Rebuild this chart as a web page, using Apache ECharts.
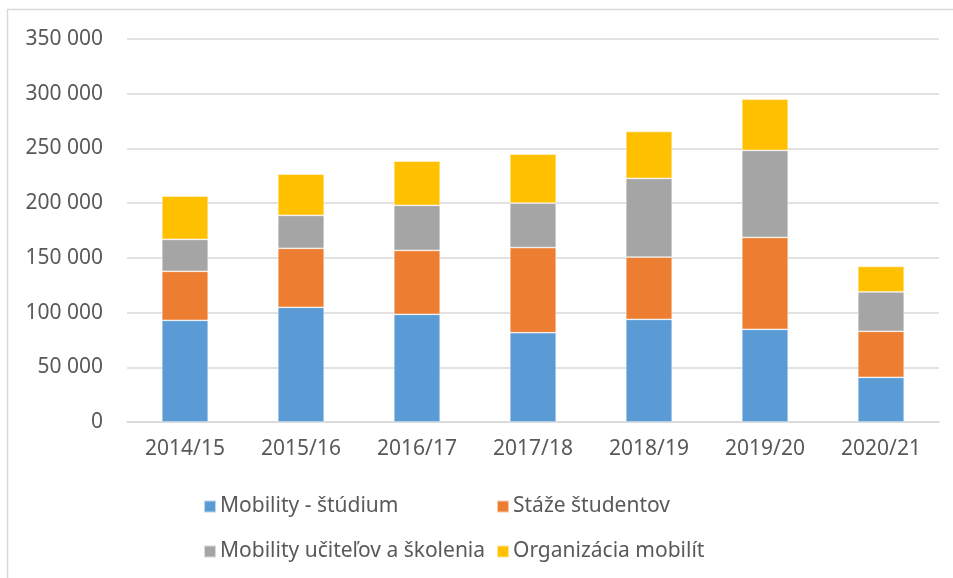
<!DOCTYPE html>
<html>
<head>
<meta charset="utf-8">
<script src="https://cdn.jsdelivr.net/npm/echarts@6/dist/echarts.min.js"></script>
<style>
  html, body { margin: 0; padding: 0; background: #fff; }
  #chart { width: 953px; height: 578px; }
</style>
</head>
<body>
<div id="chart"></div>
<script>
// school years on the x axis
var years = ['2014/15', '2015/16', '2016/17', '2017/18', '2018/19', '2019/20', '2020/21'];

// stacked series
var studium = [92900, 104800, 98400, 81600, 93800, 84700, 40800];
var staze = [44800, 53900, 58400, 77800, 56900, 84000, 42100];
var ucitelia = [29200, 30100, 41200, 40600, 71900, 79500, 35900];
var organizacia = [39500, 37700, 40400, 44800, 42900, 46800, 23400];

var seriesNames = ['Mobility - štúdium', 'Stáže študentov', 'Mobility učiteľov a školenia', 'Organizácia mobilít'];
var seriesData = [studium, staze, ucitelia, organizacia];
var colors = ['#5B9BD5', '#ED7D31', '#A5A5A5', '#FFC000'];

var font = 'Noto Sans';
var textColor = '#595959';

function fmt(v) {
  return String(v).replace(/\B(?=(\d{3})+(?!\d))/g, ' ');
}

var myChart = echarts.init(document.getElementById('chart'));

// Excel style legend: two fixed columns, two rows
var legendPos = [
  { left: 203, top: 496 },
  { left: 496, top: 496 },
  { left: 203, top: 541 },
  { left: 496, top: 541 }
];

var option = {
  animation: false,
  color: colors,
  textStyle: { fontFamily: font },
  graphic: [{
    type: 'rect',
    shape: { x: 7.5, y: 9.5, width: 1000, height: 1000 },
    style: { fill: 'none', stroke: '#D9D9D9', lineWidth: 1.5 },
    silent: true
  }],
  grid: {
    left: 127,
    right: 14,
    top: 39,
    bottom: 156
  },
  legend: seriesNames.map(function (name, i) {
    return {
      data: [name],
      left: legendPos[i].left,
      top: legendPos[i].top,
      icon: 'rect',
      itemWidth: 12,
      itemHeight: 12,
      itemGap: 0,
      padding: 0,
      selectedMode: false,
      textStyle: { color: textColor, fontSize: 21, fontFamily: font, padding: [0, 0, 0, -1] }
    };
  }),
  xAxis: {
    type: 'category',
    data: years,
    axisLine: { show: true, lineStyle: { color: '#D9D9D9', width: 1.5 } },
    axisTick: { show: false },
    axisLabel: { color: textColor, fontSize: 21, fontFamily: font, margin: 17 }
  },
  yAxis: {
    type: 'value',
    min: 0,
    max: 350000,
    interval: 50000,
    axisLine: { show: false },
    axisTick: { show: false },
    splitLine: { lineStyle: { color: '#D9D9D9', width: 1.5 } },
    axisLabel: {
      color: textColor,
      fontSize: 21,
      fontFamily: font,
      margin: 24,
      formatter: fmt
    }
  },
  series: seriesNames.map(function (name, i) {
    return {
      name: name,
      type: 'bar',
      stack: 'total',
      barWidth: '40%',
      data: seriesData[i],
      itemStyle: { borderColor: 'rgba(255,255,255,0.6)', borderWidth: 0.75 }
    };
  })
};

myChart.setOption(option);
</script>
</body>
</html>
